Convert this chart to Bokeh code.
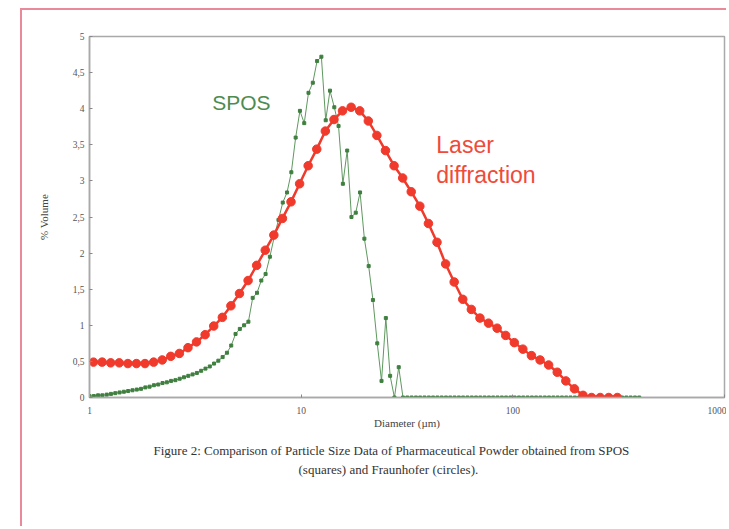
from bokeh.plotting import figure
from bokeh.models import Label, Range1d, FixedTicker, Title
from bokeh.embed import file_html
from bokeh.resources import INLINE

# Laser diffraction (Fraunhofer), circles
laser_x = [1.044, 1.147, 1.259, 1.382, 1.518, 1.666, 1.829, 2.009, 2.206, 2.421,
           2.658, 2.919, 3.204, 3.518, 3.863, 4.242, 4.656, 5.112, 5.614, 6.163,
           6.767, 7.430, 8.157, 8.954, 9.831, 10.79, 11.85, 13.01, 14.29, 15.68,
           17.22, 18.91, 20.76, 22.79, 25.02, 27.48, 30.16, 33.11, 36.36, 39.92,
           43.83, 48.13, 52.83, 58.01, 63.68, 69.93, 76.76, 84.28, 92.54, 101.6,
           111.5, 122.4, 134.5, 147.6, 162.1, 178.0, 195.4, 214.5, 235.5, 258.6,
           283.9, 311.7]
laser_y = [0.49, 0.49, 0.48, 0.48, 0.47, 0.47, 0.47, 0.49, 0.52, 0.57,
           0.61, 0.69, 0.77, 0.87, 0.99, 1.11, 1.27, 1.44, 1.62, 1.83,
           2.04, 2.25, 2.48, 2.71, 2.96, 3.21, 3.44, 3.69, 3.85, 3.97,
           4.02, 3.97, 3.83, 3.63, 3.42, 3.21, 3.04, 2.85, 2.65, 2.41,
           2.15, 1.85, 1.60, 1.36, 1.22, 1.10, 1.03, 0.96, 0.86, 0.76,
           0.67, 0.58, 0.52, 0.45, 0.35, 0.23, 0.12, 0.03, 0.00, 0.00,
           0.00, 0.00]

# SPOS, squares
spos_x = [1.000, 1.048, 1.098, 1.150, 1.206, 1.263, 1.324, 1.387, 1.453, 1.523,
          1.596, 1.672, 1.752, 1.836, 1.923, 2.015, 2.112, 2.213, 2.319, 2.429,
          2.546, 2.667, 2.795, 2.929, 3.069, 3.215, 3.370, 3.531, 3.700, 3.877,
          4.062, 4.256, 4.460, 4.673, 4.897, 5.131, 5.376, 5.633, 5.902, 6.185,
          6.481, 6.790, 7.115, 7.455, 7.812, 8.185, 8.576, 8.987, 9.417, 9.867,
          10.34, 10.83, 11.35, 11.89, 12.46, 13.06, 13.68, 14.34, 15.02, 15.74,
          16.50, 17.28, 18.11, 18.98, 19.89, 20.84, 21.83, 22.88, 23.97, 25.12,
          26.32, 27.58, 28.90, 30.28, 31.73, 33.25, 34.84, 36.50, 38.25, 40.08,
          42.00, 44.01, 46.11, 48.32, 50.63, 53.05, 55.58, 58.24, 61.03, 63.95,
          67.01, 70.21, 73.57, 77.09, 80.78, 84.64, 88.69, 92.92, 97.37, 102.0,
          106.9, 112.0, 117.4, 123.0, 128.9, 135.0, 141.5, 148.3, 155.4, 162.8,
          170.6, 178.8, 187.3, 196.3, 205.7, 215.5, 225.8, 236.6, 247.9, 259.8,
          272.2, 285.2, 298.9, 313.2, 328.1, 343.8, 360.2, 377.5, 395.5]
spos_y = [0.02, 0.02, 0.03, 0.03, 0.04, 0.05, 0.06, 0.07, 0.08, 0.09,
          0.10, 0.11, 0.12, 0.14, 0.15, 0.17, 0.18, 0.20, 0.21, 0.23,
          0.24, 0.26, 0.28, 0.30, 0.32, 0.34, 0.37, 0.40, 0.43, 0.47,
          0.51, 0.56, 0.62, 0.72, 0.88, 0.95, 1.00, 1.05, 1.38, 1.45,
          1.62, 1.71, 1.95, 2.22, 2.46, 2.70, 2.84, 3.12, 3.60, 3.97,
          3.80, 4.22, 4.36, 4.66, 4.72, 3.84, 4.25, 4.02, 3.76, 2.96,
          3.42, 2.50, 2.56, 2.84, 2.20, 1.82, 1.35, 0.75, 0.23, 1.10,
          0.30, 0.00, 0.42, 0.00, 0.00, 0.00, 0.00, 0.00, 0.00, 0.00,
          0.00, 0.00, 0.00, 0.00, 0.00, 0.00, 0.00, 0.00, 0.00, 0.00,
          0.00, 0.00, 0.00, 0.00, 0.00, 0.00, 0.00, 0.00, 0.00, 0.00,
          0.00, 0.00, 0.00, 0.00, 0.00, 0.00, 0.00, 0.00, 0.00, 0.00,
          0.00, 0.00, 0.00, 0.00, 0.00, 0.00, 0.00, 0.00, 0.00, 0.00,
          0.00, 0.00, 0.00, 0.00, 0.00, 0.00, 0.00, 0.00, 0.00]

x_ticks = [1, 10, 100, 1000]
x_tick_labels = ["1", "10", "100", "1000"]
y_ticks = [0, 0.5, 1, 1.5, 2, 2.5, 3, 3.5, 4, 4.5, 5]
y_tick_labels = ["0", "0,5", "1", "1,5", "2", "2,5", "3", "3,5", "4", "4,5", "5"]

x_title = "Diameter (µm)"
y_title = "% Volume"
caption_1 = "Figure 2: Comparison of Particle Size Data of Pharmaceutical Powder obtained from SPOS"
caption_2 = "(squares) and Fraunhofer (circles)."

RED = "#f03a2c"
GREEN = "#3f7f3f"
GRAY = "#a9a9a9"
PINK = "#e98a9b"
SERIF = "Liberation Serif"
SANS = "Liberation Sans"

p = figure(width=706, height=518, x_axis_type="log",
           x_range=Range1d(1, 1000), y_range=Range1d(0, 5),
           output_backend="svg", toolbar_location=None,
           min_border_left=67, min_border_right=4,
           min_border_top=26, min_border_bottom=131)

# page border of the scanned document (pink), drawn as CSS border of the plot box
p.styles = {"margin-left": "20px", "margin-top": "8px",
            "border-left": "2px solid " + PINK, "border-top": "2px solid " + PINK}

p.background_fill_color = "white"
p.border_fill_color = "white"
p.outline_line_color = GRAY
p.outline_line_width = 1.5
p.xgrid.visible = False
p.ygrid.visible = False

p.xaxis.ticker = FixedTicker(ticks=x_ticks, minor_ticks=[])
p.xaxis.major_label_overrides = {t: l for t, l in zip(x_ticks, x_tick_labels)}
p.yaxis.ticker = FixedTicker(ticks=y_ticks, minor_ticks=[])
p.yaxis.major_label_overrides = {t: l for t, l in zip(y_ticks, y_tick_labels)}

for ax in (p.xaxis, p.yaxis):
    ax.axis_line_color = GRAY
    ax.axis_line_width = 1.5
    ax.major_tick_line_color = "#888888"
    ax.major_tick_in = 3
    ax.major_tick_out = 0
    ax.minor_tick_line_color = None
    ax.major_label_text_font = SERIF
    ax.major_label_text_font_size = "9.5px"
    ax.major_label_text_color = "#555555"
    ax.axis_label_text_font = SERIF
    ax.axis_label_text_font_size = "11px"
    ax.axis_label_text_font_style = "normal"
    ax.axis_label_text_color = "#444444"

p.xaxis.axis_label = x_title
p.xaxis.major_label_standoff = 9
p.xaxis.axis_label_standoff = 0
p.yaxis.axis_label = y_title
p.yaxis.major_label_standoff = 5
p.yaxis.axis_label_standoff = 20

# SPOS (squares)
p.line(spos_x, spos_y, line_color="#5f985f", line_width=1)
p.scatter(spos_x, spos_y, marker="square", size=3, fill_color=GREEN, line_color=GREEN)

# Laser diffraction (circles)
p.line(laser_x, laser_y, line_color=RED, line_width=2.5)
p.scatter(laser_x, laser_y, marker="circle", size=8.5, fill_color=RED, line_color=RED)

p.add_layout(Label(x=3.8, y=4.09, text="SPOS", text_font=SANS, text_font_size="21px",
                   text_color="#4e8c4e", text_baseline="alphabetic"))
p.add_layout(Label(x=43.5, y=3.5, text="Laser", text_font=SANS, text_font_size="23px",
                   text_color="#ef4a3a", text_baseline="alphabetic"))
p.add_layout(Label(x=43.5, y=3.08, text="diffraction", text_font=SANS, text_font_size="23px",
                   text_color="#ef4a3a", text_baseline="alphabetic"))

# Figure caption below the chart
for txt, off, so in ((caption_1, 64, 19), (caption_2, 209, -18)):
    p.add_layout(Title(text=txt, align="left", offset=off, standoff=so,
                       text_font=SERIF, text_font_size="13px", text_font_style="normal",
                       text_color="#333333"), "below")

open("out.html", "w").write(file_html(p, INLINE))
